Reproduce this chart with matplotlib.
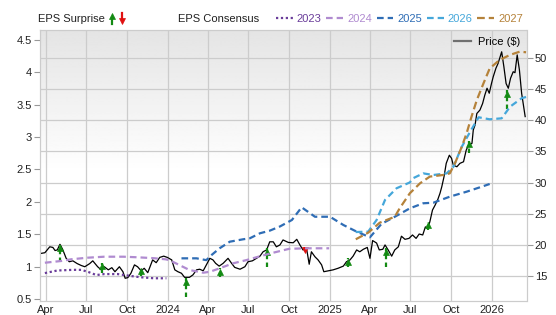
import numpy as np
import pandas as pd
import matplotlib
matplotlib.use("Agg")
import matplotlib.pyplot as plt
import matplotlib.dates as mdates
from matplotlib.lines import Line2D
from matplotlib.transforms import offset_copy

plt.rcParams['font.family'] = ['Liberation Sans', 'DejaVu Sans']

# price ($), right axis
price_dates = [
    "2023-03-22", "2023-03-30", "2023-04-10", "2023-04-17", "2023-04-22", "2023-04-27", "2023-05-03", "2023-05-09",
    "2023-05-17", "2023-05-24", "2023-06-01", "2023-06-11", "2023-06-20", "2023-06-28", "2023-07-09", "2023-07-16",
    "2023-07-27", "2023-08-04", "2023-08-11", "2023-08-20", "2023-08-28", "2023-09-04", "2023-09-14", "2023-09-22",
    "2023-09-27", "2023-10-03", "2023-10-10", "2023-10-18", "2023-10-25", "2023-11-02", "2023-11-09", "2023-11-17",
    "2023-11-28", "2023-12-06", "2023-12-14", "2023-12-23", "2023-12-31",
    "2024-01-10", "2024-01-17", "2024-01-24", "2024-02-01", "2024-02-08", "2024-02-19", "2024-02-27", "2024-03-06",
    "2024-03-13", "2024-03-21", "2024-03-28", "2024-04-05", "2024-04-12", "2024-04-18", "2024-04-26", "2024-05-05",
    "2024-05-16", "2024-05-24", "2024-05-31", "2024-06-12", "2024-06-23", "2024-06-30", "2024-07-10", "2024-07-19",
    "2024-07-27", "2024-08-03", "2024-08-11", "2024-08-18", "2024-08-26", "2024-09-02", "2024-09-10", "2024-09-17",
    "2024-09-29", "2024-10-10", "2024-10-18", "2024-10-25", "2024-11-01", "2024-11-09", "2024-11-15", "2024-11-20",
    "2024-11-28", "2024-12-05", "2024-12-13", "2024-12-18", "2024-12-28",
    "2025-01-08", "2025-01-19", "2025-01-31", "2025-02-07", "2025-02-15", "2025-02-22", "2025-03-02", "2025-03-09",
    "2025-03-17", "2025-03-26", "2025-04-01", "2025-04-07", "2025-04-16", "2025-04-22", "2025-04-30", "2025-05-05",
    "2025-05-12", "2025-05-20", "2025-05-27", "2025-06-04", "2025-06-11", "2025-06-19", "2025-06-28", "2025-07-06",
    "2025-07-14", "2025-07-21", "2025-07-29", "2025-08-04", "2025-08-09", "2025-08-14", "2025-08-20", "2025-08-26",
    "2025-09-01", "2025-09-06", "2025-09-10", "2025-09-15", "2025-09-20", "2025-09-27", "2025-10-02", "2025-10-06",
    "2025-10-14", "2025-10-21", "2025-10-29", "2025-11-04", "2025-11-09", "2025-11-17", "2025-11-20", "2025-11-24",
    "2025-11-28", "2025-12-05", "2025-12-11", "2025-12-16", "2025-12-21", "2025-12-26", "2025-12-31",
    "2026-01-04", "2026-01-10", "2026-01-15", "2026-01-23", "2026-01-28", "2026-02-02", "2026-02-07", "2026-02-12",
    "2026-02-18", "2026-02-22", "2026-02-27", "2026-03-04", "2026-03-09", "2026-03-17"]
price = [
    18.65, 18.75, 19.7, 19.6, 19.1, 19.2, 20.1, 19.3, 17.85, 17.3, 17.45, 17.0, 16.7, 16.5, 17.0, 17.45,
    16.5, 16.0, 16.5, 16.0, 16.35, 15.7, 16.5, 15.7, 14.65, 14.75, 15.45, 16.8, 16.5, 15.85, 16.25, 15.55,
    17.6, 17.15, 18.0, 18.2, 18.0,
    17.6, 16.0, 15.7, 15.45, 14.8, 14.8, 15.2, 16.0, 16.1, 15.85, 16.8, 17.85, 17.6, 17.05, 16.6, 17.05,
    17.85, 17.05, 16.4, 16.1, 16.5, 17.3, 17.45, 17.85, 18.2, 18.9, 19.2, 20.5, 20.5, 19.7, 20.0, 20.8,
    20.4, 20.35, 20.9, 20.0, 19.2, 19.45, 16.9, 18.9, 18.1, 17.6, 16.8, 15.7, 15.85,
    16.0, 16.25, 16.6, 17.3, 17.6, 18.2, 19.2, 18.9, 19.3, 19.6, 17.85, 20.7, 20.3, 19.2, 19.3, 20.0,
    19.2, 18.2, 19.2, 19.7, 21.4, 20.9, 21.05, 21.6, 21.05, 21.75, 21.6, 22.9, 22.6, 23.7, 25.6, 26.4,
    27.3, 28.3, 29.35, 30.95, 33.1, 34.4, 33.9, 32.8, 32.55, 33.1, 33.35, 35.2, 36.0, 36.3, 38.45, 39.25,
    41.1, 41.65, 42.7, 44.05, 45.15, 44.35, 45.9,
    47.0, 48.35, 49.15, 51.0, 48.6, 45.9, 45.15, 46.75, 47.8, 47.65, 50.5, 48.1, 44.35, 40.6]

# EPS consensus by fiscal year, left axis
eps23_dates = ["2023-03-30", "2023-04-27", "2023-06-01", "2023-06-20", "2023-07-05", "2023-07-24",
               "2023-08-11", "2023-09-10", "2023-10-10", "2023-11-02", "2023-12-01", "2023-12-29"]
eps23 = [0.90, 0.94, 0.95, 0.95, 0.92, 0.87, 0.885, 0.885, 0.855, 0.835, 0.82, 0.82]

eps24_dates = ["2023-03-30", "2023-05-06", "2023-05-28", "2023-07-05", "2023-08-11", "2023-09-23",
               "2023-10-25", "2023-12-01", "2023-12-27", "2024-01-05", "2024-01-27", "2024-02-19",
               "2024-03-21", "2024-04-05", "2024-04-27", "2024-05-27", "2024-06-26", "2024-07-27",
               "2024-08-26", "2024-10-01", "2024-11-09", "2024-12-30"]
eps24 = [1.06, 1.087, 1.113, 1.138, 1.153, 1.153, 1.144, 1.13, 1.113, 1.10, 1.025, 0.948,
         0.906, 0.92, 0.974, 1.05, 1.10, 1.16, 1.215, 1.275, 1.283, 1.283]

eps25_dates = ["2024-02-01", "2024-03-06", "2024-03-28", "2024-04-09", "2024-04-27", "2024-05-20",
               "2024-06-19", "2024-07-04", "2024-07-27", "2024-08-18", "2024-09-10", "2024-10-07",
               "2024-10-29", "2024-11-28", "2025-01-01", "2025-01-31", "2025-03-02", "2025-04-01",
               "2025-04-27", "2025-05-27", "2025-06-30", "2025-07-30", "2025-08-22", "2025-09-28",
               "2025-11-05", "2025-12-05", "2025-12-27"]
eps25 = [1.128, 1.128, 1.10, 1.18, 1.283, 1.385, 1.422, 1.437, 1.515, 1.555, 1.62, 1.72,
         1.916, 1.77, 1.77, 1.643, 1.54, 1.453, 1.66, 1.77, 1.9, 1.978, 1.987, 2.08,
         2.157, 2.225, 2.276]

eps26_dates = ["2025-02-28", "2025-03-28", "2025-04-16", "2025-05-05", "2025-05-31", "2025-06-30",
               "2025-07-07", "2025-07-30", "2025-08-22", "2025-09-21", "2025-10-06", "2025-10-25",
               "2025-11-13", "2025-12-02", "2025-12-27", "2026-01-23", "2026-02-11", "2026-03-09",
               "2026-03-19"]
eps26 = [1.534, 1.54, 1.72, 2.03, 2.21, 2.30, 2.364, 2.44, 2.415, 2.44, 2.54, 2.85,
         3.084, 3.306, 3.275, 3.29, 3.47, 3.6, 3.62]

eps27_dates = ["2025-02-28", "2025-03-28", "2025-04-23", "2025-05-27", "2025-06-07", "2025-06-30",
               "2025-07-23", "2025-08-14", "2025-09-13", "2025-09-28", "2025-10-10", "2025-10-25",
               "2025-11-05", "2025-11-16", "2025-11-28", "2025-12-13", "2025-12-27", "2026-01-18",
               "2026-02-11", "2026-03-05", "2026-03-19"]
eps27 = [1.422, 1.524, 1.678, 1.77, 1.9, 2.133, 2.287, 2.39, 2.415, 2.44, 2.6, 2.85,
         3.06, 3.315, 3.573, 3.83, 4.06, 4.19, 4.27, 4.32, 4.31]

# EPS surprise arrows, drawn on the price scale (stem start -> tip)
surprise_dates = ["2023-05-03", "2023-08-06", "2023-11-01", "2024-02-12", "2024-04-28", "2024-08-11",
                  "2024-11-05", "2025-02-11", "2025-05-07", "2025-08-10", "2025-11-11", "2026-02-04"]
surprise_from = [17.3, 15.5, 15.0, 11.6, 14.9, 16.5, 19.7, 16.4, 16.4, 22.4, 34.8, 41.75]
surprise_to = [20.0, 17.1, 16.35, 14.65, 16.25, 19.45, 18.65, 17.85, 19.45, 23.7, 36.7, 44.85]

years = ["2023", "2024", "2025", "2026", "2027"]
colors = ["#6a3d9a", "#b08bd0", "#2f6db5", "#45a7da", "#b5823a"]
styles = [(0, (1, 1.2)), (0, (3, 1.8)), (0, (3, 1.8)), (0, (3, 1.8)), (0, (3.5, 1.8))]
GREEN = "#138a13"
RED = "#e01010"
MS = 5

fig = plt.figure(figsize=(5.56, 3.15), dpi=100)
ax = fig.add_axes([40 / 556, 14 / 315, 486.5 / 556, 271 / 315])
ax2 = ax.twinx()
ax.yaxis.tick_right()
ax2.yaxis.tick_left()

# gray-to-white background
grad = np.linspace(0.0, 1.0, 256).reshape(-1, 1)
grad = np.clip(grad * 1.9, 0, 1)
ax.imshow(grad, extent=[0, 1, 0, 1], transform=ax.transAxes, aspect="auto",
          cmap="gray", vmin=-8.5, vmax=1.0, zorder=0)

ax.plot(pd.to_datetime(price_dates), price, color="black", lw=0.9, zorder=3)

for d, a, b in zip(pd.to_datetime(surprise_dates), surprise_from, surprise_to):
    c = GREEN if b > a else RED
    sign = 1 if b > a else -1
    ax.plot([d, d], [a, b], color=c, lw=1.6, ls=(0, (2, 1.5)), zorder=4)
    tr = offset_copy(ax.transData, fig=fig, y=-sign * MS / 2, units="points")
    ax.plot([d], [b], marker="^" if sign > 0 else "v", ms=MS, color=c,
            mec=c, mew=0.5, transform=tr, zorder=5)

for dts, vals, c, ls in zip([eps23_dates, eps24_dates, eps25_dates, eps26_dates, eps27_dates],
                            [eps23, eps24, eps25, eps26, eps27], colors, styles):
    ax2.plot(pd.to_datetime(dts), vals, color=c, lw=1.6, ls=ls)

ax.set_xlim(pd.Timestamp("2023-03-19"), pd.Timestamp("2026-03-20"))
ax.set_ylim(11.0, 54.5)
ax2.set_ylim(0.469, 4.654)

ax.set_yticks(range(15, 55, 5))
ax2.set_yticks(np.arange(0.5, 4.51, 0.5))
ax2.yaxis.set_major_formatter(plt.FuncFormatter(lambda v, p: f"{v:g}"))

ax.xaxis.set_major_locator(mdates.MonthLocator(bymonth=[1, 4, 7, 10]))
ax.xaxis.set_major_formatter(plt.FuncFormatter(
    lambda v, p: mdates.num2date(v).strftime("%Y" if mdates.num2date(v).month == 1 else "%b")))

ax.grid(True, color="#cccccc", lw=0.9)
ax.set_axisbelow(True)
for a in (ax, ax2):
    for s in a.spines.values():
        s.set_color("#cccccc")
ax.tick_params(axis="x", length=0, pad=3, labelsize=8, labelcolor="#222222")
ax.tick_params(axis="y", length=4, width=0.8, color="#999999", pad=2, labelsize=8, labelcolor="#222222")
ax2.tick_params(axis="y", length=4, width=0.8, color="#999999", pad=2, labelsize=8, labelcolor="#222222")

ax.legend([Line2D([], [], color="#707070", lw=1.6)], ["Price ($)"], loc="upper right",
          frameon=False, fontsize=8, handlelength=1.5, handletextpad=0.6,
          borderaxespad=0.2, bbox_to_anchor=(1.0, 1.0))

# top legend
ytop = 1 - 19 / 315
fig.text(38 / 556, ytop, "EPS Surprise", fontsize=8, va="center", color="#222222")
# green up arrow: stem 24 -> 18 px from top, head above; red down arrow mirrored
for xp, c, m, stem, head in [(112, GREEN, "^", (24, 18), 16), (122, RED, "v", (13, 19), 21)]:
    fig.add_artist(Line2D([xp / 556, xp / 556], [1 - stem[0] / 315, 1 - stem[1] / 315],
                          color=c, lw=1.6, transform=fig.transFigure))
    fig.add_artist(Line2D([xp / 556], [1 - head / 315], marker=m, ms=MS, color=c,
                          mec=c, mew=0.5, transform=fig.transFigure))
fig.text(178 / 556, ytop, "EPS Consensus", fontsize=8, va="center", color="#222222")
handles = [Line2D([], [], color=c, lw=1.6, ls=ls) for c, ls in zip(colors, styles)]
fig.legend(handles, years, loc="center left", bbox_to_anchor=(276 / 556, ytop), ncol=5,
           frameon=False, fontsize=8, handlelength=1.5, handletextpad=0.35, columnspacing=0.45,
           borderpad=0, borderaxespad=0, labelcolor=colors)

fig.savefig("out.png", dpi=100)
